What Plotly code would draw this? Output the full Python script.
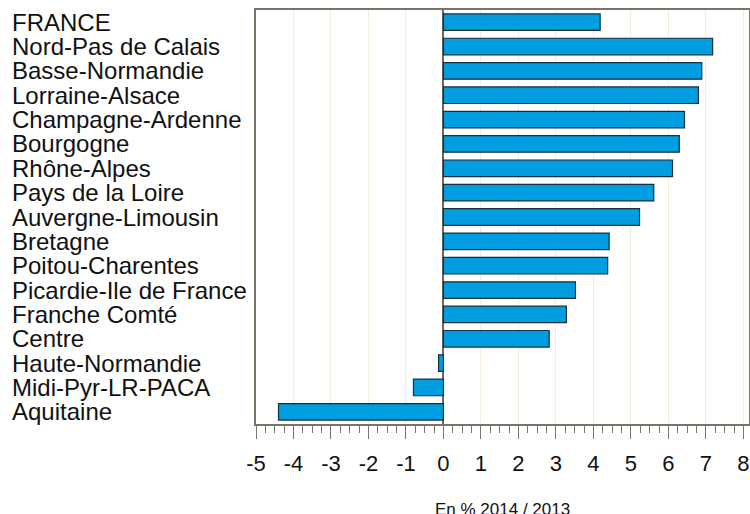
import plotly.graph_objects as go

regions = ["FRANCE", "Nord-Pas de Calais", "Basse-Normandie", "Lorraine-Alsace",
           "Champagne-Ardenne", "Bourgogne", "Rhône-Alpes", "Pays de la Loire",
           "Auvergne-Limousin", "Bretagne", "Poitou-Charentes", "Picardie-Ile de France",
           "Franche Comté", "Centre", "Haute-Normandie", "Midi-Pyr-LR-PACA", "Aquitaine"]
values = [4.18, 7.18, 6.89, 6.80, 6.43, 6.29, 6.11, 5.61, 5.23, 4.42, 4.38,
          3.52, 3.28, 2.82, -0.13, -0.80, -4.40]
tick_vals = list(range(-5, 9))
tick_text = [str(v) for v in tick_vals]
axis_title = "En % 2014 / 2013"

FONT = "Liberation Sans"

fig = go.Figure()
fig.add_trace(go.Bar(
    y=regions, x=values, orientation="h",
    marker=dict(color="#009de0", line=dict(color="#15303f", width=1.2)),
    width=0.68, showlegend=False,
))

for r in regions:
    fig.add_annotation(x=0, xref="paper", xshift=-246, y=r, yref="y",
                       text=r, showarrow=False, xanchor="left", yanchor="middle",
                       font=dict(family=FONT, size=24, color="#111111"))

fig.add_annotation(x=0.5, xref="paper", y=-0.207, yref="paper", text=axis_title,
                   showarrow=False, xanchor="center", yanchor="middle",
                   font=dict(family=FONT, size=17, color="#111111"))

fig.update_layout(
    width=750, height=514,
    margin=dict(l=256, r=1, t=10, b=90, autoexpand=False),
    plot_bgcolor="white", paper_bgcolor="white",
    bargap=0.32,
)
fig.update_xaxes(
    automargin=False,
    range=[-5, 8.15], tickvals=tick_vals, ticktext=tick_text,
    showgrid=True, gridcolor="#eeeedc", gridwidth=1,
    zeroline=True, zerolinecolor="#6b655c", zerolinewidth=1.5,
    ticks="outside", ticklen=13, tickcolor="#7a7468", tickwidth=1.2,
    minor=dict(dtick=0.25, tick0=0, ticks="outside", ticklen=7, tickcolor="#7a7468", showgrid=False),
    showline=True, linecolor="#7a7468", linewidth=1.5, mirror=True,
    tickfont=dict(family=FONT, size=22, color="#111111"),
    ticklabelstandoff=6,
)
fig.update_yaxes(
    automargin=False,
    categoryorder="array", categoryarray=regions[::-1],
    showticklabels=False, ticks="", showgrid=False,
    showline=True, linecolor="#7a7468", linewidth=1.5, mirror=True,
    range=[-0.5, 16.5],
)

fig.write_html(
    "out.html",
    config={"displayModeBar": False},
    post_script="document.body.style.margin='0';document.body.style.overflow='hidden';",
)
